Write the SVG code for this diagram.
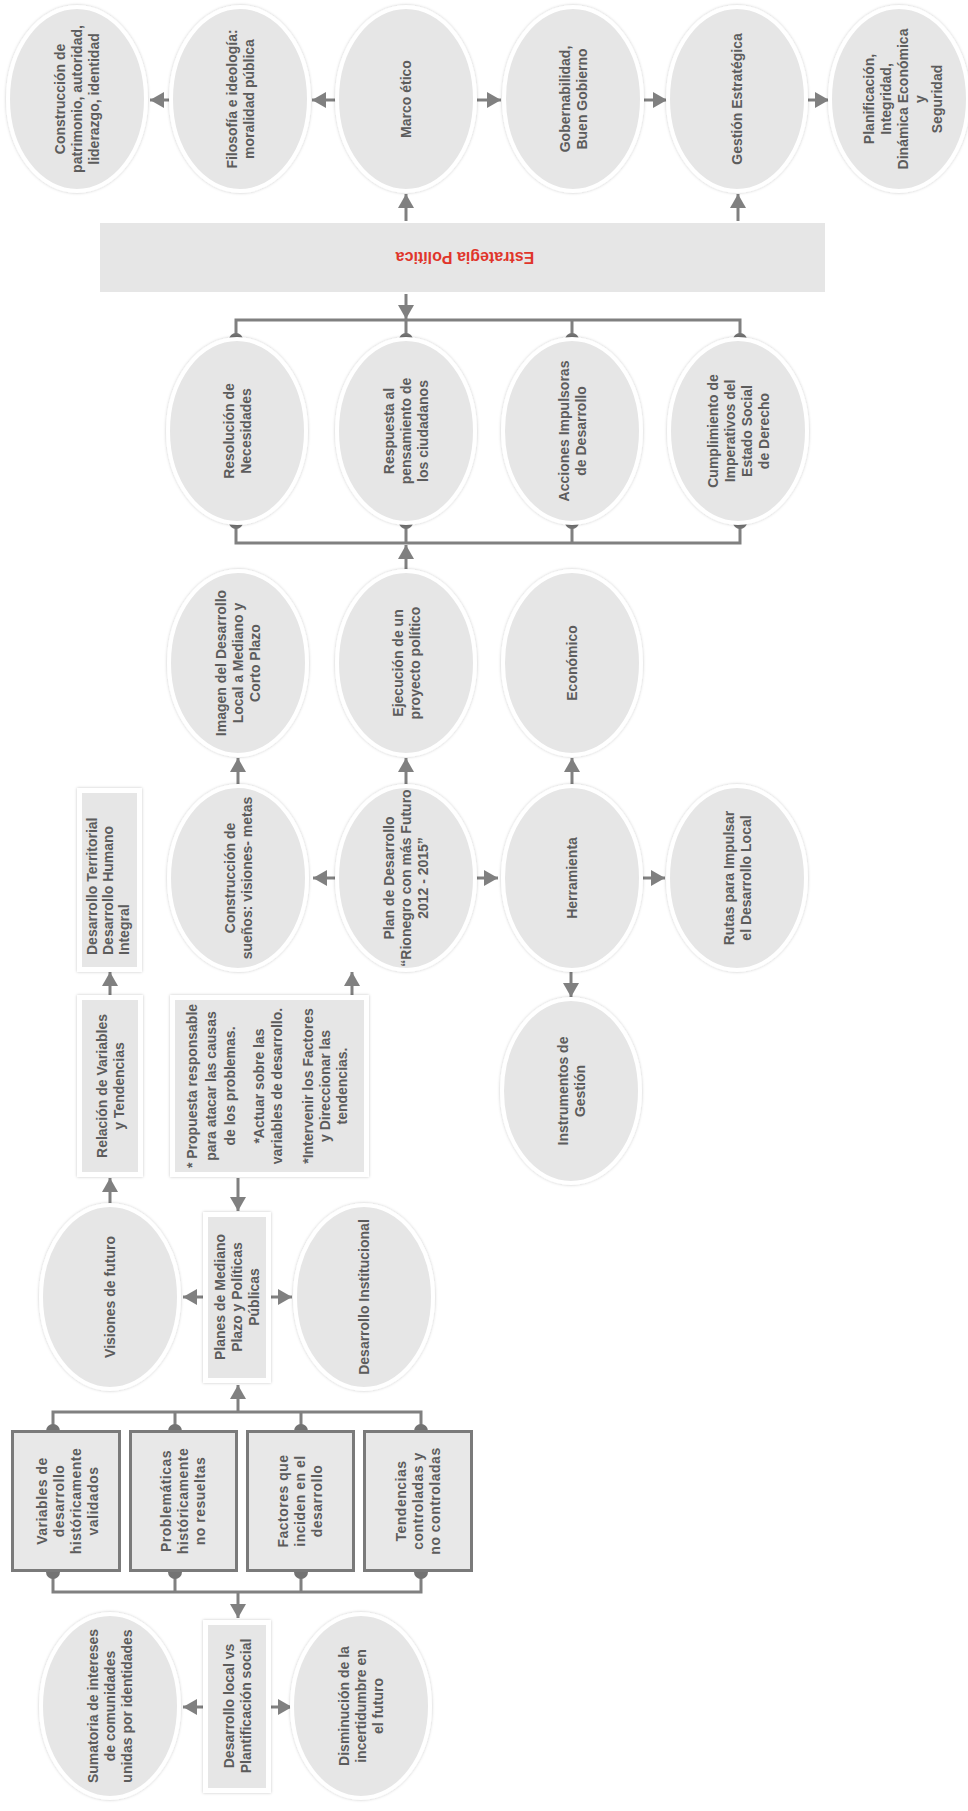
<svg xmlns="http://www.w3.org/2000/svg" width="968" height="1811" viewBox="0 0 968 1811">
<style>
.el{fill:#e6e6e6;stroke:#ffffff;stroke-width:4;filter:url(#sh)}
.bx{fill:#e6e6e6;stroke:#ffffff;stroke-width:5;filter:url(#sh)}
.db{fill:#e8e8e8;stroke:#7a7a7a;stroke-width:3}
.t{font-family:"Liberation Sans",Arial,sans-serif;font-weight:bold;font-size:14px;fill:#5c5c5c;text-anchor:middle}
.ts{letter-spacing:0.5px}
.red{font-family:"Liberation Sans",Arial,sans-serif;font-weight:bold;font-size:16px;fill:#e0352b;text-anchor:middle}
.c{stroke:#808080;stroke-width:3;fill:none}
.a{stroke:#808080;stroke-width:3;fill:none;marker-end:url(#ah)}
.d{fill:#737373}
</style>
<defs>
<filter id="sh" x="-10%" y="-10%" width="120%" height="120%">
<feDropShadow dx="0" dy="0" stdDeviation="1.5" flood-color="#000" flood-opacity="0.22"/>
</filter>
<marker id="ah" viewBox="0 0 14 16" refX="14" refY="8" markerWidth="14" markerHeight="16" markerUnits="userSpaceOnUse" orient="auto">
<path d="M0,0 L14,8 L0,16 z" fill="#808080"/>
</marker>
</defs>
<rect x="0" y="0" width="968" height="1811" fill="#ffffff"/>

<g id="connectors">
<line class="a" x1="337" y1="100" x2="312" y2="100"/>
<line class="a" x1="170" y1="100" x2="150" y2="100"/>
<line class="a" x1="477" y1="100" x2="501" y2="100"/>
<line class="a" x1="644" y1="100" x2="667" y2="100"/>
<line class="a" x1="808" y1="100" x2="829" y2="100"/>
<line class="a" x1="406" y1="221" x2="406" y2="194"/>
<line class="a" x1="738" y1="221" x2="738" y2="194"/>
<line class="a" x1="406" y1="294" x2="406" y2="319"/>
<path class="c" d="M236,340 V320 H740 V340 M406,320 V340 M572,320 V340"/>
<circle class="d" cx="236" cy="340" r="7"/><circle class="d" cx="406" cy="340" r="7"/><circle class="d" cx="572" cy="340" r="7"/><circle class="d" cx="740" cy="340" r="7"/>
<path class="c" d="M236,522 V543 H740 V522 M406,522 V543 M572,522 V543"/>
<circle class="d" cx="236" cy="522" r="7"/><circle class="d" cx="406" cy="522" r="7"/><circle class="d" cx="572" cy="522" r="7"/><circle class="d" cx="740" cy="522" r="7"/>
<line class="a" x1="406" y1="570" x2="406" y2="545"/>
<line class="a" x1="238" y1="785" x2="238" y2="758"/>
<line class="a" x1="406" y1="785" x2="406" y2="758"/>
<line class="a" x1="572" y1="785" x2="572" y2="758"/>
<line class="a" x1="337" y1="878" x2="313" y2="878"/>
<line class="a" x1="476" y1="878" x2="498" y2="878"/>
<line class="a" x1="643" y1="878" x2="665" y2="878"/>
<line class="a" x1="571" y1="972" x2="571" y2="997"/>
<line class="a" x1="110" y1="995" x2="110" y2="972"/>
<line class="a" x1="352" y1="995" x2="352" y2="972"/>
<line class="a" x1="110" y1="1204" x2="110" y2="1178"/>
<line class="a" x1="238" y1="1178" x2="238" y2="1211"/>
<line class="a" x1="205" y1="1297" x2="183" y2="1297"/>
<line class="a" x1="270" y1="1297" x2="292" y2="1297"/>
<path class="c" d="M53,1431 V1412 H421 V1431 M175,1412 V1431 M301,1412 V1431"/>
<line class="a" x1="238" y1="1412" x2="238" y2="1385"/>
<circle class="d" cx="53" cy="1431" r="7"/><circle class="d" cx="175" cy="1431" r="7"/><circle class="d" cx="301" cy="1431" r="7"/><circle class="d" cx="421" cy="1431" r="7"/>
<path class="c" d="M53,1572 V1592 H421 V1572 M175,1592 V1572 M301,1592 V1572"/>
<line class="a" x1="238" y1="1592" x2="238" y2="1618"/>
<circle class="d" cx="53" cy="1572" r="7"/><circle class="d" cx="175" cy="1572" r="7"/><circle class="d" cx="301" cy="1572" r="7"/><circle class="d" cx="421" cy="1572" r="7"/>
<line class="a" x1="205" y1="1707" x2="183" y2="1707"/>
<line class="a" x1="270" y1="1707" x2="292" y2="1707"/>
</g>

<g id="n-construccion-patrimonio"><ellipse class="el" cx="77" cy="99" rx="69" ry="92"/>
<text class="t" transform="translate(77,99) rotate(-90)"><tspan x="0" y="-12">Construcción de</tspan><tspan x="0" y="5">patrimonio, autoridad,</tspan><tspan x="0" y="22">liderazgo, identidad</tspan></text></g>
<g id="n-filosofia"><ellipse class="el" cx="240" cy="99" rx="69" ry="92"/>
<text class="t" transform="translate(240,99) rotate(-90)"><tspan x="0" y="-3.5">Filosofía e ideología:</tspan><tspan x="0" y="13.5">moralidad pública</tspan></text></g>
<g id="n-marco"><ellipse class="el" cx="406" cy="99" rx="69" ry="92"/>
<text class="t" transform="translate(406,99) rotate(-90)"><tspan x="0" y="5">Marco ético</tspan></text></g>
<g id="n-gobernabilidad"><ellipse class="el" cx="573" cy="99" rx="69" ry="92"/>
<text class="t" transform="translate(573,99) rotate(-90)"><tspan x="0" y="-3.5">Gobernabilidad,</tspan><tspan x="0" y="13.5">Buen Gobierno</tspan></text></g>
<g id="n-gestion"><ellipse class="el" cx="737" cy="99" rx="69" ry="92"/>
<text class="t" transform="translate(737,99) rotate(-90)"><tspan x="0" y="5">Gestión Estratégica</tspan></text></g>
<g id="n-planificacion"><ellipse class="el" cx="899" cy="99" rx="69" ry="92"/>
<text class="t" transform="translate(903,99) rotate(-90)"><tspan x="0" y="-29">Planificación,</tspan><tspan x="0" y="-12">Integridad,</tspan><tspan x="0" y="5">Dinámica Económica</tspan><tspan x="0" y="22">y</tspan><tspan x="0" y="39">Seguridad</tspan></text></g>

<g id="n-estrategia"><rect x="100" y="223" width="725" height="69" fill="#e6e6e6"/>
<text class="red" transform="translate(465,257) rotate(180)" x="0" y="5.5">Estrategia Política</text></g>

<g id="n-resolucion"><ellipse class="el" cx="237" cy="431" rx="69" ry="92"/>
<text class="t" transform="translate(237,431) rotate(-90)"><tspan x="0" y="-3.5">Resolución de</tspan><tspan x="0" y="13.5">Necesidades</tspan></text></g>
<g id="n-respuesta"><ellipse class="el" cx="406" cy="431" rx="69" ry="92"/>
<text class="t" transform="translate(406,431) rotate(-90)"><tspan x="0" y="-12">Respuesta al</tspan><tspan x="0" y="5">pensamiento de</tspan><tspan x="0" y="22">los ciudadanos</tspan></text></g>
<g id="n-acciones"><ellipse class="el" cx="572" cy="431" rx="69" ry="92"/>
<text class="t" transform="translate(572,431) rotate(-90)"><tspan x="0" y="-3.5">Acciones Impulsoras</tspan><tspan x="0" y="13.5">de Desarrollo</tspan></text></g>
<g id="n-cumplimiento"><ellipse class="el" cx="738" cy="431" rx="69" ry="92"/>
<text class="t" transform="translate(738,431) rotate(-90)"><tspan x="0" y="-20.5">Cumplimiento de</tspan><tspan x="0" y="-3.5">Imperativos del</tspan><tspan x="0" y="13.5">Estado Social</tspan><tspan x="0" y="30.5">de Derecho</tspan></text></g>

<g id="n-imagen"><ellipse class="el" cx="238" cy="663" rx="69" ry="92"/>
<text class="t" transform="translate(238,663) rotate(-90)"><tspan x="0" y="-12">Imagen del Desarrollo</tspan><tspan x="0" y="5">Local a Mediano y</tspan><tspan x="0" y="22">Corto Plazo</tspan></text></g>
<g id="n-ejecucion"><ellipse class="el" cx="406" cy="663" rx="69" ry="92"/>
<text class="t" transform="translate(406,663) rotate(-90)"><tspan x="0" y="-3.5">Ejecución de un</tspan><tspan x="0" y="13.5">proyecto político</tspan></text></g>
<g id="n-economico"><ellipse class="el" cx="572" cy="663" rx="69" ry="92"/>
<text class="t" transform="translate(572,663) rotate(-90)"><tspan x="0" y="5">Económico</tspan></text></g>

<g id="n-suenos"><ellipse class="el" cx="238" cy="878" rx="69" ry="92"/>
<text class="t" transform="translate(238,878) rotate(-90)"><tspan x="0" y="-3.5">Construcción de</tspan><tspan x="0" y="13.5">sueños: visiones- metas</tspan></text></g>
<g id="n-plan"><ellipse class="el" cx="406" cy="878" rx="69" ry="92"/>
<text class="t" transform="translate(406,878) rotate(-90)"><tspan x="0" y="-12">Plan de Desarrollo</tspan><tspan x="0" y="5">“Rionegro con más Futuro</tspan><tspan x="0" y="22">2012 - 2015”</tspan></text></g>
<g id="n-herramienta"><ellipse class="el" cx="572" cy="878" rx="69" ry="92"/>
<text class="t" transform="translate(572,878) rotate(-90)"><tspan x="0" y="5">Herramienta</tspan></text></g>
<g id="n-rutas"><ellipse class="el" cx="737" cy="878" rx="69" ry="92"/>
<text class="t" transform="translate(737,878) rotate(-90)"><tspan x="0" y="-3.5">Rutas para Impulsar</tspan><tspan x="0" y="13.5">el Desarrollo Local</tspan></text></g>
<g id="n-instrumentos"><ellipse class="el" cx="571" cy="1091" rx="69" ry="92"/>
<text class="t" transform="translate(571,1091) rotate(-90)"><tspan x="0" y="-3.5">Instrumentos de</tspan><tspan x="0" y="13.5">Gestión</tspan></text></g>

<g id="n-territorial"><rect class="bx" x="79.5" y="790.5" width="60" height="179"/>
<text class="t" style="text-anchor:start" transform="translate(110,880) rotate(-90)"><tspan x="-75" y="-13">Desarrollo Territorial</tspan><tspan x="-75" y="3">Desarrollo Humano</tspan><tspan x="-75" y="19">Integral</tspan></text></g>
<g id="n-relacion"><rect class="bx" x="79.5" y="997.5" width="61" height="177"/>
<text class="t" transform="translate(110,1086) rotate(-90)"><tspan x="0" y="-3.5">Relación de Variables</tspan><tspan x="0" y="13.5">y Tendencias</tspan></text></g>
<g id="n-propuesta"><rect class="bx" x="172.5" y="997.5" width="194" height="177"/>
<text class="t" transform="translate(270,1086) rotate(-90)"><tspan x="0" y="-73">* Propuesta responsable</tspan><tspan x="0" y="-54">para atacar las causas</tspan><tspan x="0" y="-35">de los problemas.</tspan><tspan x="0" y="-6">*Actuar sobre las</tspan><tspan x="0" y="12">variables de desarrollo.</tspan><tspan x="0" y="43">*Intervenir los Factores</tspan><tspan x="0" y="60">y Direccionar las</tspan><tspan x="0" y="77">tendencias.</tspan></text></g>

<g id="n-visiones"><ellipse class="el" cx="110" cy="1297" rx="69" ry="92"/>
<text class="t" transform="translate(110,1297) rotate(-90)"><tspan x="0" y="5">Visiones de futuro</tspan></text></g>
<g id="n-planes"><rect class="bx" x="205.5" y="1214.5" width="63" height="166"/>
<text class="t" transform="translate(237,1297) rotate(-90)"><tspan x="0" y="-12">Planes de Mediano</tspan><tspan x="0" y="5">Plazo y Políticas</tspan><tspan x="0" y="22">Públicas</tspan></text></g>
<g id="n-institucional"><ellipse class="el" cx="364" cy="1297" rx="69" ry="92"/>
<text class="t" transform="translate(364,1297) rotate(-90)"><tspan x="0" y="5">Desarrollo Institucional</tspan></text></g>

<g id="n-variables"><rect class="db" x="12.5" y="1431.5" width="107" height="139"/>
<text class="t ts" transform="translate(67,1501) rotate(-90)"><tspan x="0" y="-20.5">Variables de</tspan><tspan x="0" y="-3.5">desarrollo</tspan><tspan x="0" y="13.5">históricamente</tspan><tspan x="0" y="30.5">validados</tspan></text></g>
<g id="n-problematicas"><rect class="db" x="130.5" y="1431.5" width="106" height="139"/>
<text class="t ts" transform="translate(183,1501) rotate(-90)"><tspan x="0" y="-12">Problemáticas</tspan><tspan x="0" y="5">históricamente</tspan><tspan x="0" y="22">no resueltas</tspan></text></g>
<g id="n-factores"><rect class="db" x="247.5" y="1431.5" width="106" height="139"/>
<text class="t ts" transform="translate(300,1501) rotate(-90)"><tspan x="0" y="-12">Factores que</tspan><tspan x="0" y="5">inciden en el</tspan><tspan x="0" y="22">desarrollo</tspan></text></g>
<g id="n-tendencias"><rect class="db" x="364.5" y="1431.5" width="107" height="139"/>
<text class="t ts" transform="translate(418,1501) rotate(-90)"><tspan x="0" y="-12">Tendencias</tspan><tspan x="0" y="5">controladas y</tspan><tspan x="0" y="22">no controladas</tspan></text></g>

<g id="n-sumatoria"><ellipse class="el" cx="110" cy="1706" rx="69" ry="92"/>
<text class="t" transform="translate(110,1706) rotate(-90)"><tspan x="0" y="-12">Sumatoria de intereses</tspan><tspan x="0" y="5">de comunidades</tspan><tspan x="0" y="22">unidas por identidades</tspan></text></g>
<g id="n-desarrollo-local"><rect class="bx" x="205.5" y="1622.5" width="63" height="168"/>
<text class="t" transform="translate(237,1706) rotate(-90)"><tspan x="0" y="-3.5">Desarrollo local vs</tspan><tspan x="0" y="13.5">Plantificación social</tspan></text></g>
<g id="n-disminucion"><ellipse class="el" cx="361" cy="1706" rx="69" ry="92"/>
<text class="t" transform="translate(361,1706) rotate(-90)"><tspan x="0" y="-12">Disminución de la</tspan><tspan x="0" y="5">incertidumbre en</tspan><tspan x="0" y="22">el futuro</tspan></text></g>
</svg>
